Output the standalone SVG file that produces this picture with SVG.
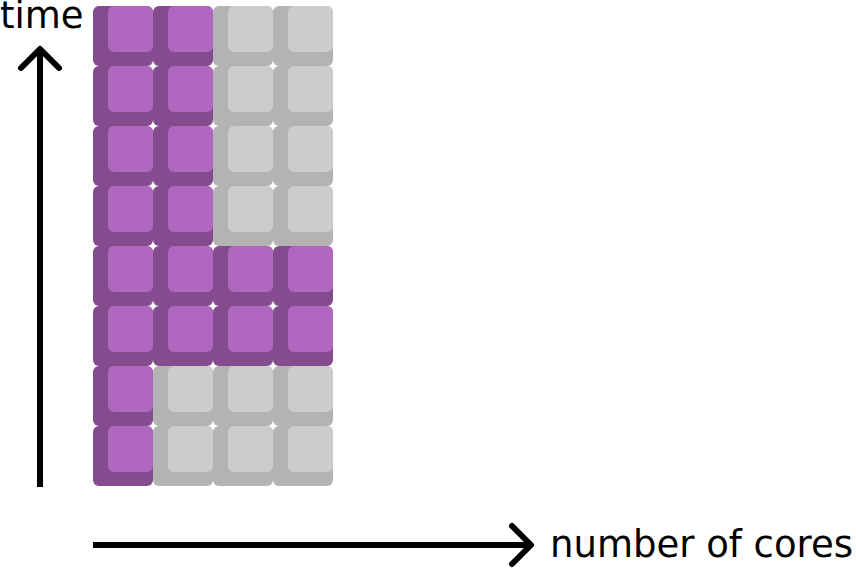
<svg xmlns="http://www.w3.org/2000/svg" xmlns:xlink="http://www.w3.org/1999/xlink" width="856" height="568" viewBox="0 0 856 568">
<style>
.lbl{font-family:"DejaVu Sans",sans-serif;font-size:37px;fill:#000}
.ax{stroke:#000;stroke-width:6;fill:none;stroke-linecap:round;stroke-linejoin:round}
.ax2{stroke:#000;stroke-width:6;fill:none;stroke-linecap:butt}
</style>
<defs>
<g id="p">
<rect x="0" y="0" width="60" height="60" rx="6" fill="#844b8f"/>
<rect x="15" y="0" width="45" height="46" rx="6" fill="#b067bf"/>
</g>
<g id="g">
<rect x="0" y="0" width="60" height="60" rx="6" fill="#b3b3b3"/>
<rect x="15" y="0" width="45" height="46" rx="6" fill="#cccccc"/>
</g>
</defs>
<rect width="856" height="568" fill="#fff"/>
<g id="tiles">
<use id="r1c1" xlink:href="#p" x="93" y="6"/><use id="r1c2" xlink:href="#p" x="153" y="6"/><use id="r1c3" xlink:href="#g" x="213" y="6"/><use id="r1c4" xlink:href="#g" x="273" y="6"/>
<use id="r2c1" xlink:href="#p" x="93" y="66"/><use id="r2c2" xlink:href="#p" x="153" y="66"/><use id="r2c3" xlink:href="#g" x="213" y="66"/><use id="r2c4" xlink:href="#g" x="273" y="66"/>
<use id="r3c1" xlink:href="#p" x="93" y="126"/><use id="r3c2" xlink:href="#p" x="153" y="126"/><use id="r3c3" xlink:href="#g" x="213" y="126"/><use id="r3c4" xlink:href="#g" x="273" y="126"/>
<use id="r4c1" xlink:href="#p" x="93" y="186"/><use id="r4c2" xlink:href="#p" x="153" y="186"/><use id="r4c3" xlink:href="#g" x="213" y="186"/><use id="r4c4" xlink:href="#g" x="273" y="186"/>
<use id="r5c1" xlink:href="#p" x="93" y="246"/><use id="r5c2" xlink:href="#p" x="153" y="246"/><use id="r5c3" xlink:href="#p" x="213" y="246"/><use id="r5c4" xlink:href="#p" x="273" y="246"/>
<use id="r6c1" xlink:href="#p" x="93" y="306"/><use id="r6c2" xlink:href="#p" x="153" y="306"/><use id="r6c3" xlink:href="#p" x="213" y="306"/><use id="r6c4" xlink:href="#p" x="273" y="306"/>
<use id="r7c1" xlink:href="#p" x="93" y="366"/><use id="r7c2" xlink:href="#g" x="153" y="366"/><use id="r7c3" xlink:href="#g" x="213" y="366"/><use id="r7c4" xlink:href="#g" x="273" y="366"/>
<use id="r8c1" xlink:href="#p" x="93" y="426"/><use id="r8c2" xlink:href="#g" x="153" y="426"/><use id="r8c3" xlink:href="#g" x="213" y="426"/><use id="r8c4" xlink:href="#g" x="273" y="426"/>
</g>
<g id="connectors">
<line class="ax2" x1="40" y1="487" x2="40" y2="50"/>
<polyline class="ax" points="21,68 40,49 59,68"/>
<line class="ax2" x1="93" y1="545" x2="530" y2="545"/>
<polyline class="ax" points="512,526 531,545 512,564"/>
</g>
<g id="labels">
<text id="time" class="lbl" x="0" y="28">time</text>
<text id="cores" class="lbl" x="550" y="557">number of cores</text>
</g>
</svg>
